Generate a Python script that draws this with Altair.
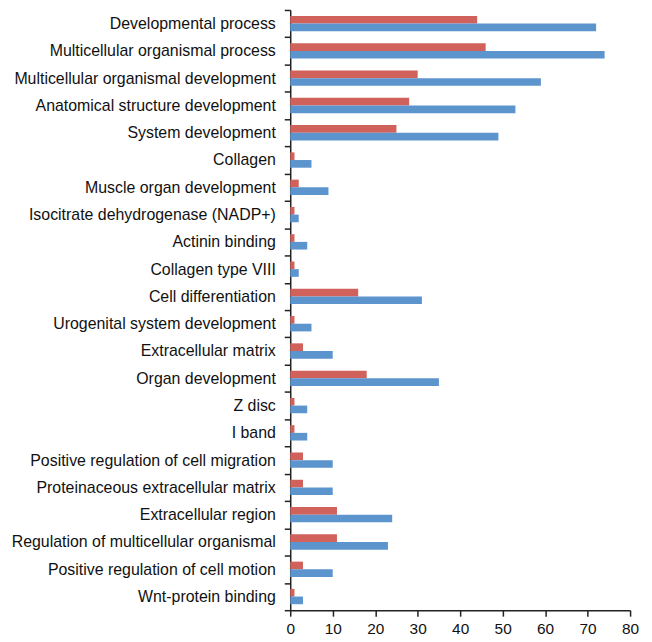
import altair as alt
import pandas as pd

categories = [
    "Developmental process",
    "Multicellular organismal process",
    "Multicellular organismal development",
    "Anatomical structure development",
    "System development",
    "Collagen",
    "Muscle organ development",
    "Isocitrate dehydrogenase (NADP+)",
    "Actinin binding",
    "Collagen type VIII",
    "Cell differentiation",
    "Urogenital system development",
    "Extracellular matrix",
    "Organ development",
    "Z disc",
    "I band",
    "Positive regulation of cell migration",
    "Proteinaceous extracellular matrix",
    "Extracellular region",
    "Regulation of multicellular organismal",
    "Positive regulation of cell motion",
    "Wnt-protein binding",
]
red_values = [44, 46, 30, 28, 25, 1, 2, 1, 1, 1, 16, 1, 3, 18, 1, 1, 3, 3, 11, 11, 3, 1]
blue_values = [72, 74, 59, 53, 49, 5, 9, 2, 4, 2, 31, 5, 10, 35, 4, 4, 10, 10, 24, 23, 10, 3]
series_names = ["Series 1", "Series 2"]
series_colors = ["#D0615B", "#5C94CE"]
x_ticks = [0, 10, 20, 30, 40, 50, 60, 70, 80]

rows = []
for c, r, b in zip(categories, red_values, blue_values):
    rows.append({"category": c, "series": series_names[0], "value": r})
    rows.append({"category": c, "series": series_names[1], "value": b})
df = pd.DataFrame(rows)

axis_color = "#222222"
font = "Liberation Sans"

chart = (
    alt.Chart(df)
    .mark_bar()
    .encode(
        y=alt.Y(
            "category:N",
            sort=categories,
            scale=alt.Scale(paddingInner=0, paddingOuter=0),
            axis=alt.Axis(
                title=None,
                tickBand="extent",
                labelFontSize=16,
                labelColor="#111111",
                labelFont=font,
                domainColor=axis_color,
                tickColor=axis_color,
                tickSize=6,
                labelPadding=9,
                labelLimit=500,
                domainWidth=1.5,
                tickWidth=1.5,
            ),
        ),
        yOffset=alt.YOffset(
            "series:N", sort=series_names, scale=alt.Scale(paddingOuter=0.78, paddingInner=0)
        ),
        x=alt.X(
            "value:Q",
            scale=alt.Scale(domain=[0, 80]),
            axis=alt.Axis(
                title=None,
                values=x_ticks,
                grid=False,
                labelFlush=False,
                labelFontSize=15.5,
                labelColor="#111111",
                labelFont=font,
                domainColor=axis_color,
                tickColor=axis_color,
                tickSize=6,
                labelPadding=5,
                domainWidth=1.5,
                tickWidth=1.5,
            ),
        ),
        color=alt.Color(
            "series:N",
            sort=series_names,
            scale=alt.Scale(domain=series_names, range=series_colors),
            legend=None,
        ),
    )
    .properties(
        width=342,
        height=604,
        autosize=alt.AutoSizeParams(type="none"),
        padding={"left": 284, "top": 0, "right": 14, "bottom": 28},
    )
    .configure_view(stroke=None)
)

chart.save("out.html", embed_options={"renderer": "svg", "actions": False})
